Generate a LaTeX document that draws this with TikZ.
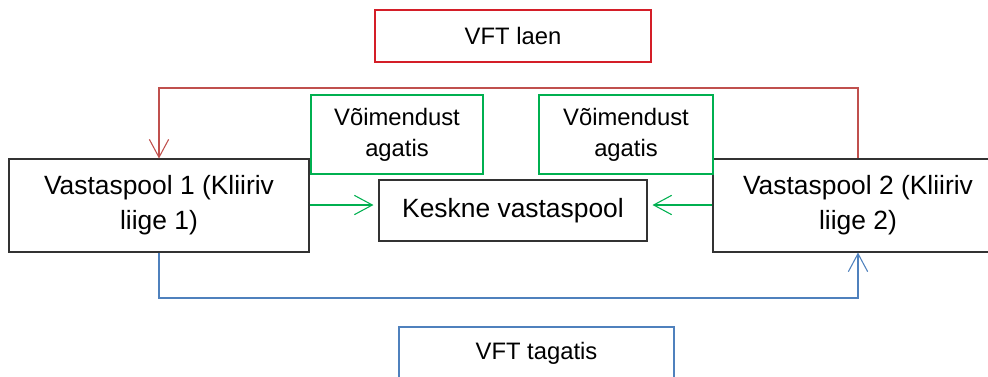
\documentclass[tikz,border=0pt]{standalone}
\usepackage{fontspec}
\setmainfont{Liberation Sans}
\usetikzlibrary{arrows.meta}
\definecolor{boxred}{RGB}{212,30,40}
\definecolor{linered}{RGB}{192,80,77}
\definecolor{grn}{RGB}{0,176,80}
\definecolor{blu}{RGB}{79,129,189}
\definecolor{dk}{RGB}{50,50,50}
\tikzset{
  bigtext/.style={font=\fontsize{19.8}{26.25}\selectfont},
  smalltext/.style={font=\fontsize{17.85}{23.25}\selectfont},
  basebox/.style={rectangle, inner sep=0pt, align=center, line width=0.8pt},
  blackbox/.style={basebox, draw=dk, bigtext},
  greenbox/.style={basebox, draw=grn, smalltext},
  redbox/.style={basebox, draw=boxred, smalltext},
  bluebox/.style={basebox, draw=blu, smalltext},
  tip/.style={-{Straight Barb[length=13.5pt,width=14.5pt,line width=0.8pt]}},
  conn/.style={line width=0.8pt, tip}
}
\begin{document}
\begin{tikzpicture}[x=0.75pt,y=-0.75pt]
\useasboundingbox (0,0) rectangle (988,376);
\clip (0,0) rectangle (988,376);
\node[redbox, minimum width=207pt, minimum height=39pt] (laen) at (513,36) {VFT laen};
\node[blackbox, minimum width=225pt, minimum height=69.75pt] (L) at (159,205.5) {Vastaspool 1 (Kliiriv\\liige 1)};
\node[blackbox, minimum width=217.5pt, minimum height=69.75pt] (R) at (858,205.5) {Vastaspool 2 (Kliiriv\\liige 2)};
\node[blackbox, minimum width=201pt, minimum height=45.75pt] (C) at (513,210.5) {Keskne vastaspool};
\node[greenbox, minimum width=129pt, minimum height=59.25pt] (G1) at (397,134.5) {Võimendust\\agatis};
\node[greenbox, minimum width=130.5pt, minimum height=59.25pt] (G2) at (626,134.5) {Võimendust\\agatis};
\node[bluebox, minimum width=206.25pt, minimum height=39pt] (T) at (536.5,353) {VFT tagatis};
\coordinate (rtop) at (858,88);
\coordinate (bbot) at (160,298);
\draw[conn, draw=linered] (R.north) -- (R.north |- rtop) -| (L.north);
\draw[conn, draw=blu] (L.south) -- (L.south |- bbot) -| (R.south);
\draw[conn, draw=grn, shorten >=3.75pt] (L.east |- 0,205) -- (C.west |- 0,205);
\draw[conn, draw=grn, shorten >=3.75pt] (R.west |- 0,205) -- (C.east |- 0,205);
\end{tikzpicture}
\end{document}
